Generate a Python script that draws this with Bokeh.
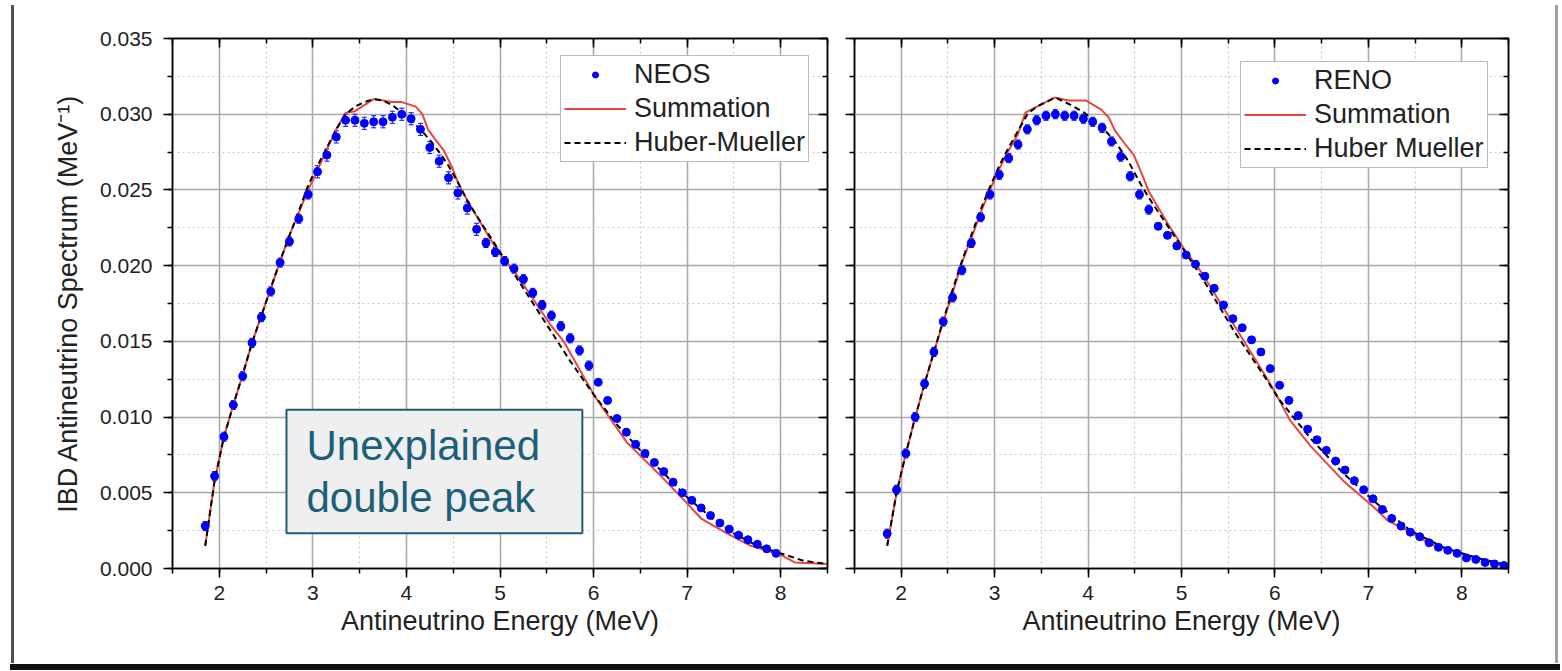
from bokeh.plotting import figure
from bokeh.layouts import row, column
from bokeh.models import (ColumnDataSource, Whisker, TeeHead, Legend, LegendItem,
                          LinearAxis, SingleIntervalTicker, NumeralTickFormatter,
                          Range1d, BoxAnnotation, Label, Div)
from bokeh.embed import file_html
from bokeh.resources import INLINE

# ---------------- data ----------------
neos_e = [1.85, 1.95, 2.05, 2.15, 2.25, 2.35, 2.45, 2.55, 2.65, 2.75, 2.85, 2.95,
          3.05, 3.15, 3.25, 3.35, 3.45, 3.55, 3.65, 3.75, 3.85, 3.95,
          4.05, 4.15, 4.25, 4.35, 4.45, 4.55, 4.65, 4.75, 4.85, 4.95,
          5.05, 5.15, 5.25, 5.35, 5.45, 5.55, 5.65, 5.75, 5.85, 5.95,
          6.05, 6.15, 6.25, 6.35, 6.45, 6.55, 6.65, 6.75, 6.85, 6.95,
          7.05, 7.15, 7.25, 7.35, 7.45, 7.55, 7.65, 7.75, 7.85, 7.95]
neos_v = [0.0028, 0.0061, 0.0087, 0.0108, 0.0127, 0.0149, 0.0166, 0.0183, 0.0202, 0.0216, 0.0231, 0.0247,
          0.0262, 0.0273, 0.0285, 0.0296, 0.0296, 0.0294, 0.0295, 0.0295, 0.0298, 0.0300,
          0.0297, 0.0290, 0.0278, 0.0269, 0.0258, 0.0248, 0.0238, 0.0224, 0.0215, 0.0209,
          0.0203, 0.0198, 0.0191, 0.0182, 0.0174, 0.0167, 0.0160, 0.0152, 0.0144, 0.0134,
          0.0123, 0.0111, 0.0099, 0.0090, 0.0082, 0.0076, 0.0070, 0.0064, 0.0057, 0.0050,
          0.0045, 0.0040, 0.0035, 0.0030, 0.0026, 0.0022, 0.0019, 0.0016, 0.0013, 0.0010]
neos_err = [0.0003, 0.0003, 0.0003, 0.0003, 0.0003, 0.0003, 0.0003, 0.0003, 0.0003, 0.0003, 0.0003, 0.0003,
            0.0004, 0.0004, 0.0004, 0.0004, 0.0004, 0.0004, 0.0004, 0.0004, 0.0004, 0.0004,
            0.0004, 0.0004, 0.0004, 0.0004, 0.0004, 0.0004, 0.0004, 0.0004, 0.0003, 0.0003,
            0.0003, 0.0003, 0.0003, 0.0003, 0.0003, 0.0003, 0.0003, 0.0003, 0.0003, 0.0003,
            0.0002, 0.0002, 0.0002, 0.0002, 0.0002, 0.0002, 0.0002, 0.0002, 0.0002, 0.0002,
            0.0001, 0.0001, 0.0001, 0.0001, 0.0001, 0.0001, 0.0001, 0.0001, 0.0001, 0.0001]

neos_sum_e = [1.85, 1.95, 2.05, 2.15, 2.25, 2.35, 2.45, 2.55, 2.65, 2.75, 2.85, 2.95, 3.05, 3.15,
              3.25, 3.35, 3.45, 3.55, 3.65, 3.75, 3.85, 3.95, 4.05, 4.10, 4.17, 4.23, 4.30, 4.40,
              4.48, 4.55, 4.66, 4.98, 5.19, 5.55, 5.68, 6.01, 6.12, 6.36, 6.72, 7.00, 7.15,
              7.43, 7.68, 8.00, 8.15, 8.50]
neos_sum_v = [0.0015, 0.0058, 0.0087, 0.0108, 0.0128, 0.0149, 0.0167, 0.0185, 0.0203, 0.0220, 0.0235, 0.0250,
              0.0263, 0.0277, 0.0290, 0.0301, 0.0302, 0.0306, 0.0310, 0.0309, 0.0308, 0.0308, 0.0306,
              0.0305, 0.0300, 0.0290, 0.0284, 0.0276, 0.0266, 0.0255, 0.0242, 0.0209, 0.0193, 0.0160,
              0.0150, 0.0114, 0.0104, 0.0083, 0.0061, 0.0043, 0.0033, 0.0023, 0.0015, 0.0009,
              0.0004, 0.0003]
neos_hm_e = [1.85, 1.95, 2.05, 2.15, 2.25, 2.35, 2.45, 2.55, 2.65, 2.75, 2.85, 2.95, 3.05, 3.15,
             3.25, 3.35, 3.45, 3.55, 3.65, 3.75, 3.85, 3.95, 4.05, 4.15, 4.25, 4.35, 4.45, 4.55,
             4.65, 4.75, 5.00, 5.25, 5.50, 5.75, 6.00, 6.25, 6.50, 6.75, 7.00, 7.25, 7.50,
             7.75, 8.00, 8.25, 8.50]
neos_hm_v = [0.0015, 0.0058, 0.0087, 0.0108, 0.0128, 0.0149, 0.0167, 0.0185, 0.0203, 0.0220, 0.0236, 0.0253,
             0.0266, 0.0278, 0.0290, 0.0300, 0.0305, 0.0308, 0.0310, 0.0309, 0.0306, 0.0301, 0.0296,
             0.0290, 0.0283, 0.0275, 0.0266, 0.0255, 0.0243, 0.0233, 0.0209, 0.0185, 0.0161, 0.0137,
             0.0115, 0.0095, 0.0078, 0.0063, 0.0047, 0.0034, 0.0023, 0.0015, 0.0010, 0.0005, 0.0003]

reno_e = [1.85, 1.95, 2.05, 2.15, 2.25, 2.35, 2.45, 2.55, 2.65, 2.75, 2.85, 2.95,
          3.05, 3.15, 3.25, 3.35, 3.45, 3.55, 3.65, 3.75, 3.85, 3.95,
          4.05, 4.15, 4.25, 4.35, 4.45, 4.55, 4.65, 4.75, 4.85, 4.95,
          5.05, 5.15, 5.25, 5.35, 5.45, 5.55, 5.65, 5.75, 5.85, 5.95,
          6.05, 6.15, 6.25, 6.35, 6.45, 6.55, 6.65, 6.75, 6.85, 6.95,
          7.05, 7.15, 7.25, 7.35, 7.45, 7.55, 7.65, 7.75, 7.85, 7.95,
          8.05, 8.15, 8.25, 8.35, 8.45]
reno_v = [0.0023, 0.0052, 0.0076, 0.0100, 0.0122, 0.0143, 0.0163, 0.0179, 0.0197, 0.0215, 0.0232, 0.0247,
          0.0260, 0.0271, 0.0280, 0.0290, 0.0296, 0.0299, 0.0300, 0.0299, 0.0299, 0.0297,
          0.0295, 0.0291, 0.0282, 0.0272, 0.0259, 0.0247, 0.0237, 0.0226, 0.0220, 0.0213,
          0.0207, 0.0201, 0.0193, 0.0185, 0.0174, 0.0165, 0.0159, 0.0151, 0.0143, 0.0132,
          0.0121, 0.0111, 0.0101, 0.0092, 0.0085, 0.0078, 0.0071, 0.0065, 0.0058, 0.0052,
          0.0046, 0.0039, 0.0033, 0.0028, 0.0024, 0.0021, 0.0017, 0.0014, 0.0012, 0.0010,
          0.0007, 0.0006, 0.0004, 0.0003, 0.0002]
reno_err = [0.0003, 0.0003, 0.0003, 0.0003, 0.0003, 0.0003, 0.0003, 0.0003, 0.0003, 0.0003, 0.0003, 0.0003,
            0.0003, 0.0003, 0.0003, 0.0003, 0.0003, 0.0003, 0.0003, 0.0003, 0.0003, 0.0003,
            0.0003, 0.0003, 0.0003, 0.0003, 0.0003, 0.0003, 0.0003, 0.0002, 0.0002, 0.0002,
            0.0002, 0.0002, 0.0002, 0.0002, 0.0002, 0.0002, 0.0002, 0.0002, 0.0002, 0.0002,
            0.0002, 0.0002, 0.0002, 0.0001, 0.0001, 0.0001, 0.0001, 0.0001, 0.0001, 0.0001,
            0.0001, 0.0001, 0.0001, 0.0001, 0.0001, 0.0001, 0.0001, 0.0001, 0.0001, 0.0001,
            0.0001, 0.0001, 0.0001, 0.0001, 0.0001]

reno_sum_e = [1.85, 1.95, 2.05, 2.15, 2.25, 2.35, 2.45, 2.55, 2.65, 2.75, 2.85, 2.95, 3.05, 3.15,
              3.25, 3.33, 3.42, 3.64, 3.79, 3.98, 4.14, 4.22, 4.29, 4.40, 4.49, 4.58, 4.65,
              4.86, 5.04, 5.22, 5.57, 5.93, 6.04, 6.16, 6.38, 6.73, 7.05, 7.20, 7.45, 7.67,
              7.99, 8.35, 8.50]
reno_sum_v = [0.0015, 0.0050, 0.0076, 0.0100, 0.0122, 0.0143, 0.0163, 0.0182, 0.0202, 0.0218, 0.0235, 0.0250,
              0.0264, 0.0276, 0.0287, 0.0301, 0.0304, 0.0311, 0.0309, 0.0309, 0.0303, 0.0298, 0.0289,
              0.0280, 0.0273, 0.0260, 0.0249, 0.0227, 0.0210, 0.0195, 0.0160, 0.0124, 0.0112,
              0.0098, 0.0081, 0.0058, 0.0041, 0.0032, 0.0024, 0.0016, 0.0010, 0.0004, 0.0002]
reno_hm_e = [1.85, 1.95, 2.05, 2.15, 2.25, 2.35, 2.45, 2.55, 2.65, 2.75, 2.85, 2.95, 3.05, 3.15,
             3.25, 3.35, 3.45, 3.55, 3.65, 3.82, 3.96, 4.14, 4.29, 4.43, 4.58, 4.68, 5.04,
             5.22, 5.57, 5.93, 6.04, 6.38, 6.73, 7.05, 7.45, 7.80, 8.16, 8.50]
reno_hm_v = [0.0015, 0.0050, 0.0076, 0.0100, 0.0122, 0.0143, 0.0164, 0.0184, 0.0203, 0.0220, 0.0237, 0.0252,
             0.0266, 0.0278, 0.0289, 0.0300, 0.0305, 0.0308, 0.0311, 0.0306, 0.0301, 0.0292, 0.0282,
             0.0269, 0.0252, 0.0242, 0.0209, 0.0192, 0.0156, 0.0123, 0.0112, 0.0086, 0.0063,
             0.0045, 0.0025, 0.0014, 0.0007, 0.0002]

x_ticks_interval = 1
y_ticks_interval = 0.005

FONT = "Liberation Sans"
BLUE = "#0000ff"
RED = "#e5463f"
TEAL = "#1b5f78"
TXT = "#222222"


def mirror_axis(ticker):
    return LinearAxis(ticker=ticker, major_label_text_font_size="0px", major_label_text_color=None,
                      major_label_standoff=0, major_tick_in=9, major_tick_out=0,
                      minor_tick_in=5, minor_tick_out=0, axis_line_width=1.5,
                      major_tick_line_width=1.5, minor_tick_line_width=1.5)


def panel(name, e, v, err, se, sv, he, hv, hm_label, width, mbl, mbr, legend_loc, left_labels):
    p = figure(width=width, height=663, x_range=Range1d(1.5, 8.5), y_range=Range1d(0, 0.035),
               output_backend="svg", toolbar_location=None,
               min_border_left=mbl, min_border_right=mbr, min_border_top=38, min_border_bottom=95,
               background_fill_color="white", border_fill_color="white")
    xt = SingleIntervalTicker(interval=x_ticks_interval, num_minor_ticks=2)
    yt = SingleIntervalTicker(interval=y_ticks_interval, num_minor_ticks=2)
    xa = p.below[0]
    ya = p.left[0]
    xa.ticker = xt
    ya.ticker = yt
    for ax in (xa, ya):
        ax.axis_line_width = 1.5
        ax.axis_line_color = "black"
        ax.major_tick_out = 9
        ax.major_tick_in = 0
        ax.minor_tick_out = 5
        ax.minor_tick_in = 0
        ax.major_tick_line_width = 1.5
        ax.minor_tick_line_width = 1.5
        ax.major_label_text_font = FONT
        ax.major_label_text_font_size = "21px"
        ax.major_label_text_color = TXT
        ax.axis_label_text_font = FONT
        ax.axis_label_text_font_size = "27px"
        ax.axis_label_text_font_style = "normal"
        ax.axis_label_text_color = TXT
    xa.major_label_standoff = 8
    xa.axis_label = "Antineutrino Energy (MeV)"
    xa.axis_label_standoff = 3
    ya.formatter = NumeralTickFormatter(format="0.000")
    if left_labels:
        ya.major_label_standoff = 11
        ya.axis_label = "IBD Antineutrino Spectrum (MeV\u207b\u00b9)"
        ya.axis_label_standoff = 14
    else:
        ya.major_label_text_font_size = "0px"
        ya.major_label_text_color = None
        ya.major_label_standoff = 0

    for g in (p.xgrid[0], p.ygrid[0]):
        g.grid_line_color = "#a9a9a9"
        g.grid_line_width = 1.5
        g.minor_grid_line_color = "#c8c8c8"
        g.minor_grid_line_width = 1.2
        g.minor_grid_line_dash = "2 3"
    p.xgrid[0].ticker = xt
    p.ygrid[0].ticker = yt
    p.outline_line_color = "black"
    p.outline_line_width = 1.5
    p.add_layout(mirror_axis(xt), "above")
    p.add_layout(mirror_axis(yt), "right")

    src = ColumnDataSource(dict(e=e, v=v,
                                up=[a + b for a, b in zip(v, err)],
                                lo=[a - b for a, b in zip(v, err)]))
    sum_r = p.line(se, sv, line_color=RED, line_width=2)
    hm_r = p.line(he, hv, line_color="black", line_width=2, line_dash="6 4")
    p.add_layout(Whisker(source=src, base="e", upper="up", lower="lo", line_color=BLUE,
                         line_width=1, line_alpha=0.8,
                         upper_head=TeeHead(size=5, line_color=BLUE, line_width=1),
                         lower_head=TeeHead(size=5, line_color=BLUE, line_width=1)))
    sc = p.scatter("e", "v", source=src, size=8, color=BLUE, marker="circle")

    legend = Legend(items=[LegendItem(label=name, renderers=[sc]),
                           LegendItem(label="Summation", renderers=[sum_r]),
                           LegendItem(label=hm_label, renderers=[hm_r])],
                    location=legend_loc)
    legend.label_text_font = FONT
    legend.label_text_font_size = "27px"
    legend.label_text_color = TXT
    legend.glyph_width = 62
    legend.glyph_height = 15
    legend.label_height = 31
    legend.spacing = 3
    legend.padding = 3
    legend.margin = 0
    legend.label_standoff = 8
    legend.border_line_color = "#777777"
    legend.border_line_width = 1.5
    legend.background_fill_color = "white"
    legend.background_fill_alpha = 1
    p.add_layout(legend)
    return p


p1 = panel("NEOS", neos_e, neos_v, neos_err, neos_sum_e, neos_sum_v, neos_hm_e, neos_hm_v,
           "Huber-Mueller", 826, 158, 13, (388, 406), True)
p2 = panel("RENO", reno_e, reno_v, reno_err, reno_sum_e, reno_sum_v, reno_hm_e, reno_hm_v,
           "Huber Mueller", 714, 14, 46, (386, 400), False)

# annotation box on the NEOS panel
p1.add_layout(BoxAnnotation(left=2.718, right=5.88, bottom=0.00232, top=0.01048,
                            fill_color="#efefef", fill_alpha=1.0,
                            line_color=TEAL, line_width=2, line_alpha=1.0))
p1.add_layout(Label(x=2.932, y=0.00809, text="Unexplained", text_font=FONT,
                    text_font_size="42px", text_color=TEAL, text_baseline="alphabetic"))
p1.add_layout(Label(x=2.932, y=0.00471, text="double peak", text_font=FONT,
                    text_font_size="42px", text_color=TEAL, text_baseline="alphabetic"))

# slide frame edges (page decoration)
left_edge = Div(text="", width=3, height=658, margin=(5, 0, 0, 11),
                styles={"background-color": "#505050"})
right_edge = Div(text="", width=3, height=658, margin=(5, 0, 0, 1),
                 styles={"background-color": "#a0a0a0"})
bottom_edge = Div(text="", width=1550, height=6, margin=(1, 0, 0, 10),
                  styles={"background-color": "#111111"})

layout = column(row(left_edge, p1, p2, right_edge), bottom_edge)
open("out.html", "w").write(file_html(layout, INLINE))
